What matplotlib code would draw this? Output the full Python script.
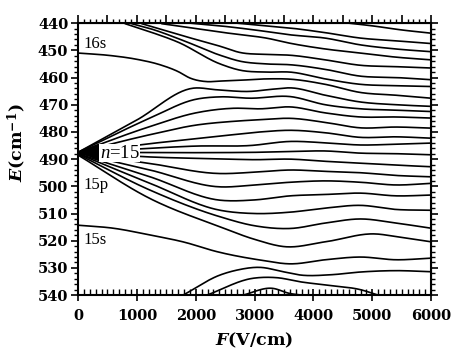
import numpy as np
import matplotlib
matplotlib.use("Agg")
import matplotlib.pyplot as plt
from matplotlib.ticker import MultipleLocator

plt.rcParams['font.family'] = 'DejaVu Serif'
plt.rcParams['mathtext.fontset'] = 'custom'
plt.rcParams['mathtext.it'] = 'Liberation Serif:italic'
plt.rcParams['mathtext.bfit'] = 'DejaVu Serif:italic:bold'
plt.rcParams['mathtext.rm'] = 'DejaVu Serif:bold'

## Stark levels: (F [V/cm], E [cm^-1])
## states coming down from the n=16 manifold (enter at the top edge)
a4600 = [(4600, 440.0), (5000, 441.0), (5500, 442.5), (6000, 443.7)]
a2700 = [(2700, 440.0), (3200, 441.0), (3604, 441.8), (4200, 443.5), (4800, 445.5), (5400, 446.5), (6000, 447.5)]
a1904 = [(1904, 440.0), (2414, 441.0), (3000, 442.5), (3604, 444.3), (4200, 445.5), (4800, 448.0), (5400, 449.5), (6000, 450.5)]
a1422 = [(1422, 440.2), (2000, 442.0), (2414, 443.3), (2754, 444.2), (3200, 445.5), (3604, 447.4), (4200, 449.5), (4800, 451.0), (5400, 452.5), (6000, 453.5)]
a1083 = [(1083, 440.2), (1600, 443.5), (2000, 446.0), (2414, 448.5), (2754, 450.8), (3200, 451.5), (3604, 451.8), (4200, 453.5), (4800, 455.5), (5400, 456.0), (6000, 456.5)]
a912 = [(912, 440.2), (1224, 442.0), (1800, 446.5), (2414, 451.8), (2754, 454.0), (3200, 455.0), (3604, 455.3), (4200, 457.0), (4800, 459.5), (5400, 460.0), (6000, 460.8)]
a800 = [(800, 440.2), (1224, 443.2), (1700, 447.0), (2414, 455.0), (2754, 457.3), (3200, 458.0), (3604, 458.0), (4200, 460.5), (4800, 462.5), (5400, 463.0), (6000, 463.3)]
## 16s
s16 = [(0, 451.0), (544, 451.9), (1000, 453.3), (1394, 455.3), (1700, 457.8), (1904, 460.2), (2188, 461.5), (2414, 461.3), (2754, 461.0), (3200, 460.5), (3604, 460.6), (4200, 462.5), (4800, 465.5), (5400, 466.5), (6000, 467.6)]
## n=15 manifold, upper half of the fan
u1 = [(0, 487.5), (1000, 475.6), (1961, 463.9), (2357, 464.5), (2924, 465.1), (3300, 464.3), (3604, 463.8), (4200, 466.5), (4800, 469.0), (5400, 470.0), (6000, 470.6)]
u2 = [(0, 487.5), (1224, 474.9), (2000, 468.0), (2414, 467.1), (2924, 467.6), (3604, 467.0), (4200, 470.0), (4800, 471.5), (5400, 472.0), (6000, 472.5)]
u3 = [(0, 487.5), (1224, 478.0), (2000, 473.0), (2640, 471.3), (3100, 471.5), (3604, 470.8), (4200, 473.0), (4800, 474.5), (5400, 474.5), (6000, 474.9)]
u4 = [(0, 487.5), (1224, 481.0), (2000, 477.5), (2640, 476.1), (3100, 475.5), (3604, 475.0), (4200, 476.5), (4800, 478.5), (5400, 478.2), (6000, 478.6)]
u5 = [(0, 487.5), (1224, 484.3), (2000, 482.5), (2640, 481.0), (3100, 480.0), (3604, 479.4), (4200, 480.3), (4800, 482.0), (5400, 481.8), (6000, 482.3)]
u6 = [(0, 487.5), (1224, 486.0), (2000, 485.2), (2924, 485.0), (3604, 483.5), (4200, 484.0), (4800, 484.8), (5400, 484.5), (6000, 484.1)]
k0 = [(0, 487.5), (1224, 487.6), (2414, 487.6), (3000, 487.5), (3604, 487.2), (4200, 487.0), (4800, 487.8), (5400, 488.0), (6000, 488.4)]
## lower half of the fan (the steepest one is 15p)
l1 = [(0, 487.5), (1224, 489.2), (2414, 489.9), (3000, 490.2), (3604, 490.0), (4200, 490.8), (4800, 491.5), (5400, 492.2), (6000, 492.8)]
l2 = [(0, 487.7), (1224, 491.6), (2414, 495.3), (3000, 494.8), (3604, 494.0), (4200, 494.5), (4800, 495.0), (5400, 496.0), (6000, 496.5)]
l3 = [(0, 487.8), (1224, 494.0), (2414, 500.2), (3000, 499.5), (3604, 498.5), (4200, 498.0), (4800, 498.5), (5400, 499.5), (6000, 498.9)]
l4 = [(0, 488.0), (1224, 496.5), (2414, 505.1), (3000, 505.0), (3604, 503.5), (4200, 503.0), (4800, 502.5), (5400, 503.5), (6000, 503.2)]
l5 = [(0, 488.0), (1224, 498.9), (2414, 508.8), (3000, 510.0), (3604, 509.5), (4200, 508.0), (4800, 507.0), (5400, 508.5), (6000, 508.8)]
l6 = [(0, 488.2), (1224, 501.4), (2414, 511.2), (3000, 514.5), (3604, 515.5), (4200, 513.5), (4800, 512.0), (5400, 513.5), (6000, 515.4)]
l7 = [(0, 488.5), (1224, 504.5), (2414, 514.9), (3000, 519.5), (3520, 522.2), (4200, 520.4), (5050, 517.5), (5440, 518.6), (6000, 520.4)]
## 15s
s15 = [(0, 514.3), (600, 515.4), (1224, 517.9), (1800, 520.5), (2357, 524.0), (3094, 527.1), (3604, 528.5), (4200, 527.0), (4800, 526.0), (5400, 527.0), (6000, 526.4)]
## states rising from the n=14 manifold (enter at the bottom edge)
b1 = [(1785, 540.0), (2414, 532.6), (2700, 530.8), (3094, 529.8), (3485, 531.4), (3774, 532.6), (4300, 532.5), (4800, 531.5), (5400, 531.0), (6000, 531.4)]
b2 = [(2190, 540.0), (2975, 533.8), (3383, 533.6), (3774, 535.1), (4300, 536.5), (4800, 538.0), (5100, 540.0)]
b3 = [(2800, 540.0), (3300, 537.5), (3600, 539.4), (3800, 540.0)]

levels = [a4600, a2700, a1904, a1422, a1083, a912, a800, s16,
          u1, u2, u3, u4, u5, u6, k0, l1, l2, l3, l4, l5, l6, l7, s15, b1, b2, b3]

def smooth(pts, n=30):
	## cubic hermite through the read points, slopes from neighbours
	p = np.array(pts, float)
	x, y = p[:, 0], p[:, 1]
	if len(x) < 3:
		return x, y
	m = np.gradient(y, x)
	xs, ys = [], []
	for i in range(len(x)-1):
		h = x[i+1]-x[i]
		t = np.linspace(0, 1, n, endpoint=False)
		h00 = 2*t**3-3*t**2+1; h10 = t**3-2*t**2+t
		h01 = -2*t**3+3*t**2; h11 = t**3-t**2
		xs.append(x[i]+t*h)
		ys.append(h00*y[i]+h10*h*m[i]+h01*y[i+1]+h11*h*m[i+1])
	xs.append([x[-1]]); ys.append([y[-1]])
	return np.concatenate(xs), np.concatenate(ys)

fig = plt.figure(figsize=(4.51, 3.56), dpi=100)
ax = fig.add_axes([0.173, 0.171, 0.783, 0.764])

for lv in levels:
	fx, fy = smooth(lv)
	ax.plot(fx, fy, color='black', lw=1.2, solid_capstyle='round')

## black wedge at the tip of the fan
ax.fill([0, 360, 360], [487.4, 484.2, 490.6], color='black', lw=0)

ax.set_xlim(0, 6000)
ax.set_ylim(540, 440)

lbl = dict(fontsize=12, va='center', ha='left', family='Liberation Serif')
ax.text(90, 447.5, '16s', **lbl)
ax.text(90, 499.6, '15p', **lbl)
ax.text(90, 519.8, '15s', **lbl)
lbl['fontsize'] = 13.5
ax.text(370, 487.8, '$n$=15', zorder=5,
	bbox=dict(facecolor='white', edgecolor='none', pad=0.3), **lbl)

for s in ax.spines.values():
	s.set_linewidth(1.5)

## left / bottom ticks
ax.yaxis.set_major_locator(MultipleLocator(10))
ax.yaxis.set_minor_locator(MultipleLocator(2))
ax.xaxis.set_major_locator(MultipleLocator(1000))
ax.xaxis.set_minor_locator(MultipleLocator(100))
ax.tick_params(axis='y', which='major', direction='out', length=5, width=1.2, labelsize=10.5, pad=2)
ax.tick_params(axis='y', which='minor', direction='out', length=3, width=1.0)
ax.tick_params(axis='x', which='major', direction='inout', length=8, width=1.2, labelsize=10.5, pad=6)
ax.tick_params(axis='x', which='minor', direction='in', length=4, width=1.0)
for lab in ax.get_xticklabels() + ax.get_yticklabels():
	lab.set_fontweight('bold')

## top / right ticks point outwards
top = ax.secondary_xaxis('top')
top.xaxis.set_major_locator(MultipleLocator(500))
top.xaxis.set_minor_locator(MultipleLocator(100))
top.tick_params(which='major', direction='out', length=6, width=1.2, labeltop=False)
top.tick_params(which='minor', direction='out', length=3, width=1.0)
right = ax.secondary_yaxis('right')
right.yaxis.set_major_locator(MultipleLocator(10))
right.yaxis.set_minor_locator(MultipleLocator(2))
right.tick_params(which='major', direction='out', length=5, width=1.2, labelright=False)
right.tick_params(which='minor', direction='out', length=3, width=1.0)

ax.set_xlabel(r'$\mathbfit{F}$(V/cm)', fontsize=12.5, fontweight='bold')
ax.set_ylabel(r'$\mathbfit{E}$(cm$^{-1}$)', fontsize=12.5, fontweight='bold')
ax.xaxis.set_label_coords(0.50, -0.13)
ax.yaxis.set_label_coords(-0.14, 0.56)

fig.savefig('out.png', dpi=100)
